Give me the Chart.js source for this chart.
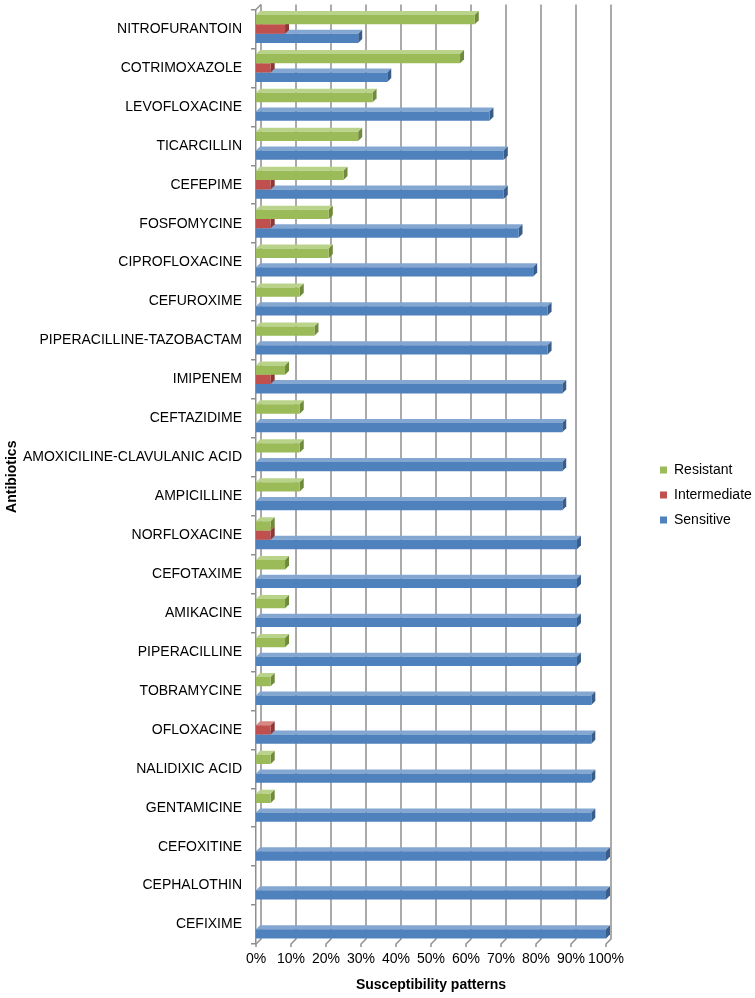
<!DOCTYPE html>
<html>
<head>
<meta charset="utf-8">
<script src="https://cdn.jsdelivr.net/npm/chart.js@4.4.0/dist/chart.umd.min.js"></script>
<style>
  html, body { margin: 0; padding: 0; background: #fff; }
  #wrap { width: 755px; height: 998px; }
</style>
</head>
<body>
<div id="wrap"><canvas id="susceptChart"></canvas></div>
<script>
// --- data (percent of isolates) ---
const antibiotics = [
    'NITROFURANTOIN', 'COTRIMOXAZOLE', 'LEVOFLOXACINE', 'TICARCILLIN', 'CEFEPIME',
    'FOSFOMYCINE', 'CIPROFLOXACINE', 'CEFUROXIME', 'PIPERACILLINE-TAZOBACTAM', 'IMIPENEM',
    'CEFTAZIDIME', 'AMOXICILINE-CLAVULANIC ACID', 'AMPICILLINE', 'NORFLOXACINE', 'CEFOTAXIME',
    'AMIKACINE', 'PIPERACILLINE', 'TOBRAMYCINE', 'OFLOXACINE', 'NALIDIXIC ACID',
    'GENTAMICINE', 'CEFOXITINE', 'CEPHALOTHIN', 'CEFIXIME'
];
const resistant    = [62.5, 58.3, 33.3, 29.2, 25, 20.8, 20.8, 12.5, 16.7, 8.3, 12.5, 12.5, 12.5, 4.2, 8.3, 8.3, 8.3, 4.2, 0, 4.2, 4.2, 0, 0, 0];
const intermediate = [8.3, 4.2, 0, 0, 4.2, 4.2, 0, 0, 0, 4.2, 0, 0, 0, 4.2, 0, 0, 0, 0, 4.2, 0, 0, 0, 0, 0];
const sensitive    = [29.2, 37.5, 66.7, 70.8, 70.8, 75, 79.2, 83.3, 83.3, 87.5, 87.5, 87.5, 87.5, 91.7, 91.7, 91.7, 91.7, 95.8, 95.8, 95.8, 95.8, 100, 100, 100];
const pctTicks = [0, 10, 20, 30, 40, 50, 60, 70, 80, 90, 100];

const FONT = "'Liberation Sans', Arial, sans-serif";
const WALL = 5;   // depth of the back wall
const DEPTH = 4;  // depth of each bar

// fake 3D: back wall grid, floor ticks, bar tops and ends
const pseudo3d = {
    id: 'pseudo3d',
    afterLayout(chart) {
        // move legend to its own spot at the right
        const lg = chart.legend;
        const w = lg.width, h = lg.height;
        lg.left = 649; lg.right = 649 + w;
        lg.top = 452; lg.bottom = 452 + h;
    },
    beforeDatasetsDraw(chart) {
        const { ctx, chartArea: a, scales: { x } } = chart;
        ctx.save();
        ctx.strokeStyle = '#8f8f8f';
        ctx.lineWidth = 1.5;
        pctTicks.forEach(v => {
            const px = x.getPixelForValue(v);
            ctx.beginPath();
            ctx.moveTo(px + WALL, a.top - WALL);
            ctx.lineTo(px + WALL, a.bottom - WALL);
            ctx.lineTo(px, a.bottom);
            ctx.lineTo(px, a.bottom + 3);
            ctx.stroke();
        });
        ctx.beginPath();
        ctx.moveTo(a.left, a.top);
        ctx.lineTo(a.left + WALL, a.top - WALL);
        ctx.stroke();

        // bottom series first so the upper bars hide what they should
        for (let i = chart.data.datasets.length - 1; i >= 0; i--) {
            const ds = chart.data.datasets[i];
            chart.getDatasetMeta(i).data.forEach(bar => {
                const { x: end, y, base, height } = bar.getProps(['x', 'y', 'base', 'height'], true);
                if (end - base < 0.5) return;
                const t = y - height / 2, b = y + height / 2;
                ctx.fillStyle = ds.topColor;
                ctx.beginPath();
                ctx.moveTo(base, t); ctx.lineTo(end, t);
                ctx.lineTo(end + DEPTH, t - DEPTH); ctx.lineTo(base + DEPTH, t - DEPTH);
                ctx.closePath(); ctx.fill();
                ctx.fillStyle = ds.sideColor;
                ctx.beginPath();
                ctx.moveTo(end, t); ctx.lineTo(end + DEPTH, t - DEPTH);
                ctx.lineTo(end + DEPTH, b - DEPTH); ctx.lineTo(end, b);
                ctx.closePath(); ctx.fill();
            });
        }
        ctx.restore();
    }
};

new Chart(document.getElementById('susceptChart').getContext('2d'), {
    type: 'bar',
    data: {
        labels: antibiotics,
        datasets: [
            { label: 'Resistant', data: resistant, backgroundColor: '#9bbb59', topColor: '#b9d38a', sideColor: '#6f8a3a' },
            { label: 'Intermediate', data: intermediate, backgroundColor: '#c0504d', topColor: '#d78885', sideColor: '#8c3836' },
            { label: 'Sensitive', data: sensitive, backgroundColor: '#4f81bd', topColor: '#84a7d2', sideColor: '#385d8a' }
        ]
    },
    options: {
        indexAxis: 'y',
        responsive: true,
        maintainAspectRatio: false,
        animation: false,
        layout: { padding: { top: 9.5, right: 149, bottom: 0, left: 0 } },
        datasets: { bar: { categoryPercentage: 0.72, barPercentage: 1.0, borderWidth: 0 } },
        scales: {
            x: {
                min: 0, max: 100,
                afterFit: s => { s.height = 54; s.paddingLeft = 0; s.paddingRight = 0; },
                grid: { display: false, drawTicks: false },
                border: { display: false },
                ticks: {
                    stepSize: 10, padding: 7, color: '#000',
                    maxRotation: 0, minRotation: 0, autoSkip: false,
                    font: { family: FONT, size: 14 },
                    callback: v => v + '%'
                },
                title: {
                    display: true, text: 'Susceptibility patterns', color: '#000',
                    font: { family: FONT, size: 14, weight: 'bold' },
                    padding: { top: 0, bottom: 4.6 }
                }
            },
            y: {
                afterFit: s => { s.width = 256; s.paddingTop = 0; s.paddingBottom = 0; },
                grid: { drawOnChartArea: false, tickLength: 5, color: '#8f8f8f', lineWidth: 1.5 },
                border: { display: true, color: '#8f8f8f', width: 1.5 },
                ticks: { padding: 9, color: '#000', font: { family: FONT, size: 14 } },
                title: {
                    display: true, text: 'Antibiotics', color: '#000',
                    font: { family: FONT, size: 14, weight: 'bold' },
                    padding: { top: 3.5, bottom: 0 }
                }
            }
        },
        plugins: {
            legend: {
                position: 'chartArea',
                align: 'start',
                labels: {
                    boxWidth: 7, boxHeight: 7, padding: 11, color: '#000',
                    font: { family: FONT, size: 14 }
                }
            },
            tooltip: { enabled: false }
        }
    },
    plugins: [pseudo3d]
});
</script>
</body>
</html>
